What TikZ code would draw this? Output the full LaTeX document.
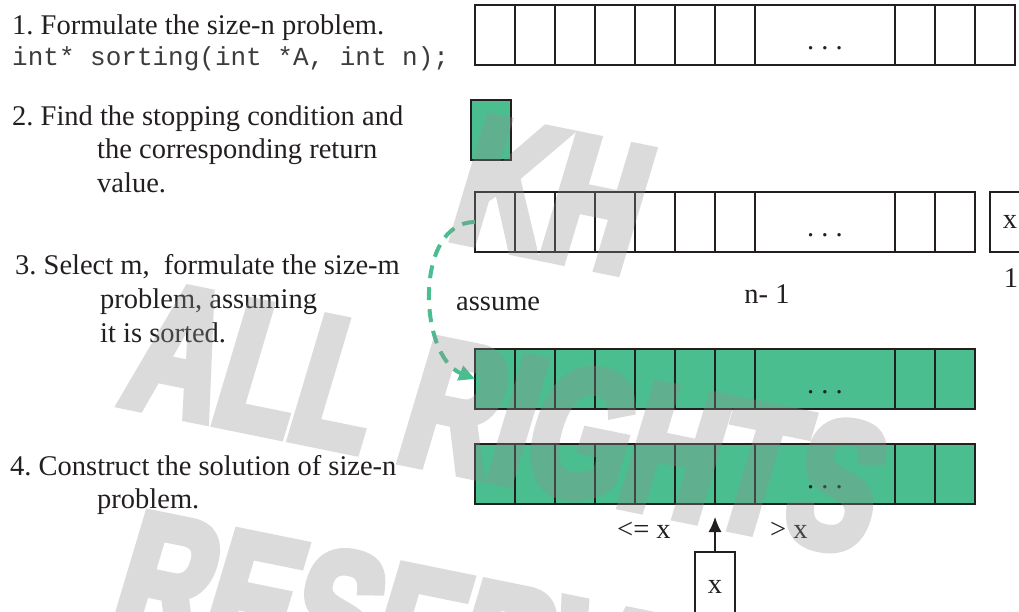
\documentclass[tikz,border=0pt]{standalone}
\usepackage{fontspec}
\setmainfont{Liberation Serif}
\setmonofont{Liberation Mono}
\newfontfamily\wmfont{Liberation Sans Bold}[FakeStretch=0.69, FakeBold=5, FakeSlant=0.09]
\usetikzlibrary{arrows.meta,positioning}
\definecolor{ink}{HTML}{231F20}
\definecolor{codegray}{HTML}{3C3C3C}
\definecolor{sortgreen}{HTML}{4ABE8F}
\definecolor{wmgray}{HTML}{919191}
\newcommand{\serifbig}{\fontsize{28.5}{34}\selectfont}
\frenchspacing

\begin{document}
\begin{tikzpicture}[x=1pt, y=-1pt,
    cell/.style={draw=ink, line width=1.3pt, minimum width=40pt, minimum height=60pt,
                 inner sep=0pt, outer sep=0pt, anchor=north west, font=\serifbig, text=ink},
    widecell/.style={cell, minimum width=140pt},
    done/.style={fill=sortgreen},
    txt/.style={anchor=base west, inner sep=0pt, text=ink, font=\serifbig},
    code/.style={anchor=base west, inner sep=0pt, text=codegray, font=\ttfamily\fontsize{26}{30}\selectfont},
    lbl/.style={anchor=base, inner sep=0pt, text=ink, font=\serifbig},
    dots/.style={lbl, yshift=-14pt},
    assumearrow/.style={sortgreen, line width=4pt, dash pattern=on 13pt off 9pt,
                        -{Triangle[length=16pt,width=15pt]}},
    pivotarrow/.style={ink, line width=1.2pt, -{Latex[length=15pt,width=13pt]}},
    wmark/.style={rotate=-11.5, align=center, text=wmgray, inner sep=0pt,
                  font=\wmfont\fontsize{183}{228}\selectfont}
]
\useasboundingbox (0,0) rectangle (1019,611);
\clip (0,0) rectangle (1019,611);
\fill[white] (0,0) rectangle (1019,611);

% --- steps ---
\node[txt]  (s1a) at (12,34)    {1. Formulate the size-n problem.};
\node[code] (s1b) at (12,65)    {int* sorting(int *A, int n);};
\node[txt]  (s2a) at (12,125)   {2. Find the stopping condition and};
\node[txt]  (s2b) at (97,158.5) {the corresponding return};
\node[txt]  (s2c) at (97,192)   {value.};
\node[txt]  (s3a) at (15,274)   {3. Select m,\ \ formulate the size-m};
\node[txt]  (s3b) at (100,308)  {problem, assuming};
\node[txt]  (s3c) at (100,342)  {it is sorted.};
\node[txt]  (s4a) at (10,475)   {4. Construct the solution of size-n};
\node[txt]  (s4b) at (97,508)   {problem.};

% --- size-n array ---
\foreach \i in {0,...,6} \node[cell] (a\i) at (475+40*\i,5) {};
\node[widecell] (a7) at (755,5) {};
\foreach \i/\xx in {8/895,9/935,10/975} \node[cell] (a\i) at (\xx,5) {};
\node[dots] (adots) at (a7.center) {. . .};

% --- stopping case ---
\node[cell, done] (base) at (471,100) {};

% --- n-1 part and last element ---
\foreach \i in {0,...,6} \node[cell] (b\i) at (475+40*\i,192) {};
\node[widecell] (b7) at (755,192) {};
\foreach \i/\xx in {8/895,9/935} \node[cell] (b\i) at (\xx,192) {};
\node[dots] (bdots) at (b7.center) {. . .};
\node[cell] (xbox) at (990,192) {x};
\node[lbl] (nminus) at (767,303) {n- 1};
\node[lbl] (one) at (1011,287) {1};

% --- sorted n-1 part ---
\foreach \i in {0,...,6} \node[cell, done] (c\i) at (475+40*\i,349) {};
\node[widecell, done] (c7) at (755,349) {};
\foreach \i/\xx in {8/895,9/935} \node[cell, done] (c\i) at (\xx,349) {};
\node[dots] (cdots) at (c7.center) {. . .};

\draw[assumearrow] (b0.west) to[out=180, in=158] (c0.west);
\node[txt] (assume) at (456,310) {assume};

% --- size-n solution ---
\foreach \i in {0,...,6} \node[cell, done] (d\i) at (475+40*\i,444) {};
\node[widecell, done] (d7) at (755,444) {};
\foreach \i/\xx in {8/895,9/935} \node[cell, done] (d\i) at (\xx,444) {};
\node[dots] (ddots) at (d7.center) {. . .};

\node[txt] (le) at (617,538) {<= x};
\node[txt] (gt) at (770,538) {> x};
\node[cell, minimum height=70pt] (pivot) at (695,552) {x};
\coordinate (tip) at (715,517);
\draw[pivotarrow] (pivot.north) -- (tip);

% --- watermark ---
\begin{scope}[transparency group, opacity=0.32]
\node[wmark] (wm) at (502,418) {KH\\ALL RIGHTS\\RESERVED};
\end{scope}

\end{tikzpicture}
\end{document}
